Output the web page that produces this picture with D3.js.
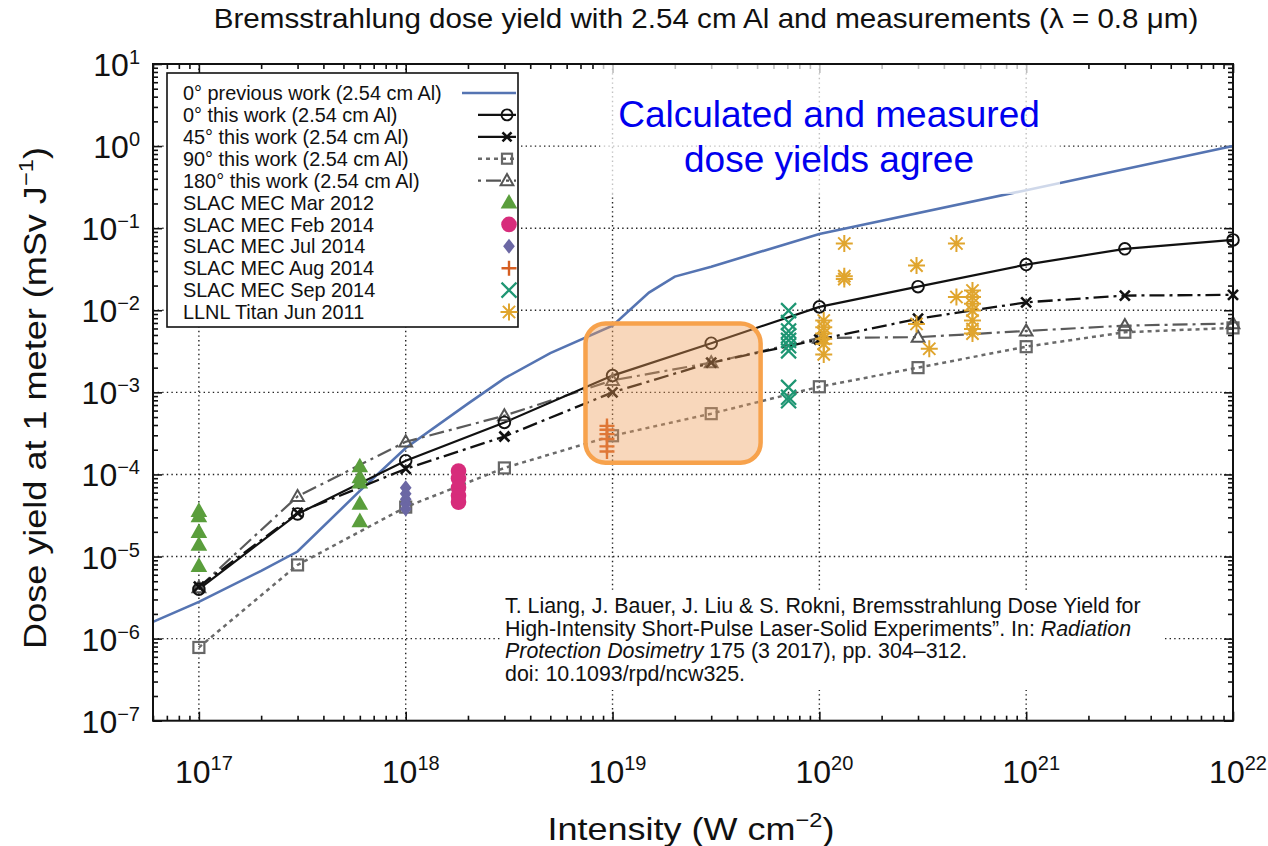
<!DOCTYPE html>
<html><head><meta charset="utf-8">
<script src="https://cdn.jsdelivr.net/npm/d3@7"></script>
<style>
body{margin:0;background:#fff}
svg{display:block}
text{font-family:"Liberation Sans",Arial,Helvetica,sans-serif;fill:#111}
</style>
</head><body>
<svg id="c" width="1268" height="846"></svg>
<script>
// ---------------- DATA ----------------
const titleText = "Bremsstrahlung dose yield with 2.54 cm Al and measurements (\u03bb = 0.8 \u03bcm)";
const xTickExp = [17, 18, 19, 20, 21, 22];
const yTickExp = [1, 0, -1, -2, -3, -4, -5, -6, -7];

const prevI    = [6e16, 1e17, 2e17, 3e17, 6e17, 1e18, 2e18, 3e18, 5e18, 1e19, 1.5e19, 2e19, 3e19, 1e20, 1e21, 1e22];
const prevDose = [1.6e-6, 2.8e-6, 6.7e-6, 1.15e-5, 6.3e-5, 2.1e-4, 7.3e-4, 1.48e-3, 3.0e-3, 6.5e-3, 0.0164, 0.0257, 0.034, 0.085, 0.29, 1.0];

const simI     = [1e17, 3e17, 1e18, 3e18, 1e19, 3e19, 1e20, 3e20, 1e21, 3e21, 1e22];
const dose0    = [4.0e-6, 3.3e-5, 1.47e-4, 4.3e-4, 1.6e-3, 3.97e-3, 0.011, 0.0194, 0.036, 0.056, 0.072];
const dose45   = [4.3e-6, 3.4e-5, 1.17e-4, 2.9e-4, 1.0e-3, 2.3e-3, 4.4e-3, 7.9e-3, 0.0125, 0.0151, 0.0154];
const dose90   = [7.8e-7, 7.9e-6, 4.0e-5, 1.2e-4, 2.96e-4, 5.5e-4, 1.17e-3, 2.0e-3, 3.6e-3, 5.4e-3, 6.1e-3];
const dose180  = [4.2e-6, 5.4e-5, 2.5e-4, 5.2e-4, 1.4e-3, 2.3e-3, 4.6e-3, 4.7e-3, 5.6e-3, 6.5e-3, 6.9e-3];

const slacMar2012I    = [1e17, 1e17, 1e17, 1e17, 1e17, 6e17, 6e17, 6e17, 6e17, 6e17];
const slacMar2012Dose = [3.6e-5, 3.1e-5, 2.0e-5, 1.4e-5, 7.7e-6, 1.26e-4, 9.3e-5, 8.0e-5, 4.4e-5, 2.7e-5];
const slacFeb2014I    = [1.8e18, 1.8e18, 1.8e18, 1.8e18, 1.8e18];
const slacFeb2014Dose = [1.1e-4, 8.9e-5, 6.9e-5, 5.5e-5, 4.6e-5];
const slacJul2014I    = [1e18, 1e18, 1e18, 1e18, 1e18];
const slacJul2014Dose = [6.9e-5, 5.8e-5, 5.0e-5, 4.4e-5, 3.8e-5];
const slacAug2014I    = [9.4e18, 9.4e18, 9.4e18, 9.4e18, 9.4e18, 9.4e18];
const slacAug2014Dose = [3.9e-4, 3.5e-4, 3.1e-4, 2.7e-4, 2.2e-4, 1.9e-4];
const slacSep2014I    = [7.1e19, 7.1e19, 7.1e19, 7.1e19, 7.1e19, 7.1e19, 7.1e19, 7.1e19, 7.1e19, 7.1e19];
const slacSep2014Dose = [9.9e-3, 7.1e-3, 5.6e-3, 4.9e-3, 4.3e-3, 3.7e-3, 3.2e-3, 1.15e-3, 8.7e-4, 7.9e-4];
const llnlI    = [1.05e20, 1.05e20, 1.05e20, 1.05e20, 1.05e20, 1.05e20, 1.32e20, 1.32e20, 1.32e20, 2.95e20, 2.95e20, 3.4e20, 4.6e20, 4.6e20, 5.5e20, 5.5e20, 5.5e20, 5.5e20, 5.5e20, 5.5e20, 5.5e20];
const llnlDose = [7.5e-3, 6.2e-3, 5.2e-3, 4.5e-3, 3.9e-3, 2.9e-3, 0.065, 0.026, 0.024, 0.035, 6.8e-3, 3.4e-3, 0.065, 0.0145, 0.0174, 0.0145, 0.012, 0.0099, 7.5e-3, 5.9e-3, 5.2e-3];

const legendLabels = ["0\u00b0 previous work (2.54 cm Al)", "0\u00b0 this work (2.54 cm Al)", "45\u00b0 this work (2.54 cm Al)",
  "90\u00b0 this work (2.54 cm Al)", "180\u00b0 this work (2.54 cm Al)", "SLAC MEC Mar 2012", "SLAC MEC Feb 2014",
  "SLAC MEC Jul 2014", "SLAC MEC Aug 2014", "SLAC MEC Sep 2014", "LLNL Titan Jun 2011"];
const annotationLines = ["Calculated and measured", "dose yields agree"];
const highlightBox = {x0: 7.4e18, x1: 5.2e19, y0: 6.9e-3, y1: 1.39e-4};

// ---------------- SETUP ----------------
const svg = d3.select('#c');
const X0 = 153, X1 = 1233, Y0 = 64, Y1 = 720.7;
const x = d3.scaleLog().domain([6e16, 1e22]).range([X0, X1]);
const y = d3.scaleLog().domain([1e-7, 1e1]).range([Y1, Y0]);

const majorX = d3.range(17, 23).map(e => Math.pow(10, e));
const majorY = d3.range(-7, 2).map(e => Math.pow(10, e));
const minorX = [], minorY = [];
for (let e = 16; e < 22; e++) for (let k = 2; k <= 9; k++) { const v = k * Math.pow(10, e); if (v >= 6e16 && v <= 1e22) minorX.push(v); }
for (let e = -7; e < 1; e++) for (let k = 2; k <= 9; k++) minorY.push(k * Math.pow(10, e));

// grid
const grid = svg.append('g').attr('stroke', '#222').attr('stroke-width', 1.4).attr('stroke-dasharray', '1.4,3.2').attr('fill', 'none');
majorX.filter(v => v < 1e22).forEach(v => grid.append('line').attr('x1', x(v)).attr('x2', x(v)).attr('y1', Y0).attr('y2', Y1));
majorY.filter(v => v > 1e-7 && v < 10).forEach(v => grid.append('line').attr('x1', X0).attr('x2', X1).attr('y1', y(v)).attr('y2', y(v)));

// axes ticks (inward on all sides)
function tickAxis(axisFn, scale, vals, size, tr) {
  const g = svg.append('g').attr('transform', tr).call(axisFn(scale).tickValues(vals).tickSize(size).tickFormat(''));
  g.select('.domain').remove();
  g.selectAll('line').attr('stroke', '#111').attr('stroke-width', 1.6);
}
tickAxis(d3.axisBottom, x, majorX, -9, `translate(0,${Y1})`);
tickAxis(d3.axisBottom, x, minorX, -5, `translate(0,${Y1})`);
tickAxis(d3.axisTop, x, majorX, -9, `translate(0,${Y0})`);
tickAxis(d3.axisTop, x, minorX, -5, `translate(0,${Y0})`);
tickAxis(d3.axisLeft, y, majorY, -9, `translate(${X0},0)`);
tickAxis(d3.axisLeft, y, minorY, -5, `translate(${X0},0)`);
tickAxis(d3.axisRight, y, majorY, -9, `translate(${X1},0)`);
tickAxis(d3.axisRight, y, minorY, -5, `translate(${X1},0)`);

// ---------------- SERIES ----------------
const line = d3.line().x(d => x(d[0])).y(d => y(d[1]));
const zip = (a, b) => a.map((v, i) => [v, b[i]]);

const styles = {
  prev: {stroke: '#5574b2', width: 2.6, dash: null},
  s0:   {stroke: '#111', width: 2.2, dash: null},
  s45:  {stroke: '#111', width: 2.3, dash: '15,5,3,5'},
  s90:  {stroke: '#6a6a6a', width: 2.5, dash: '4,4'},
  s180: {stroke: '#5a5a5a', width: 2.2, dash: '15,5,3,5'}
};
function drawLine(data, st) {
  svg.append('path').datum(data).attr('d', line).attr('fill', 'none')
    .attr('stroke', st.stroke).attr('stroke-width', st.width).attr('stroke-dasharray', st.dash);
}

function marker(g, type, cx, cy, s, color, sw) {
  let el;
  if (type === 'circle') el = g.append('circle').attr('cx', cx).attr('cy', cy).attr('r', s).attr('fill', 'none').attr('stroke', color).attr('stroke-width', sw);
  else if (type === 'dot') el = g.append('circle').attr('cx', cx).attr('cy', cy).attr('r', s).attr('fill', color);
  else if (type === 'square') el = g.append('rect').attr('x', cx - s).attr('y', cy - s).attr('width', 2 * s).attr('height', 2 * s).attr('fill', 'none').attr('stroke', color).attr('stroke-width', sw);
  else {
    let d;
    if (type === 'x') d = `M${cx - s},${cy - s}L${cx + s},${cy + s}M${cx - s},${cy + s}L${cx + s},${cy - s}`;
    else if (type === 'plus') d = `M${cx - s},${cy}L${cx + s},${cy}M${cx},${cy - s}L${cx},${cy + s}`;
    else if (type === 'star') { const a = s * 0.72; d = `M${cx - s},${cy}L${cx + s},${cy}M${cx},${cy - s}L${cx},${cy + s}M${cx - a},${cy - a}L${cx + a},${cy + a}M${cx - a},${cy + a}L${cx + a},${cy - a}`; }
    else if (type === 'tri' || type === 'trif') d = `M${cx},${cy - s}L${cx + s * 0.98},${cy + s * 0.72}L${cx - s * 0.98},${cy + s * 0.72}Z`;
    else if (type === 'diamond') d = `M${cx},${cy - s}L${cx + s * 0.78},${cy}L${cx},${cy + s}L${cx - s * 0.78},${cy}Z`;
    el = g.append('path').attr('d', d);
    if (type === 'trif' || type === 'diamond') el.attr('fill', color).attr('stroke', 'none');
    else el.attr('fill', 'none').attr('stroke', color).attr('stroke-width', sw);
  }
  return el;
}

drawLine(zip(prevI, prevDose), styles.prev);
drawLine(zip(simI, dose90), styles.s90);
drawLine(zip(simI, dose180), styles.s180);
drawLine(zip(simI, dose45), styles.s45);
drawLine(zip(simI, dose0), styles.s0);

const mk = svg.append('g');
simI.forEach((v, i) => marker(mk, 'square', x(v), y(dose90[i]), 5.5, '#666', 2.2));
simI.forEach((v, i) => marker(mk, 'tri', x(v), y(dose180[i]), 6.5, '#555', 2));
simI.forEach((v, i) => marker(mk, 'x', x(v), y(dose45[i]), 5, '#111', 2.6));
simI.forEach((v, i) => marker(mk, 'circle', x(v), y(dose0[i]), 5.8, '#111', 1.9));

const meas = svg.append('g');
slacMar2012I.forEach((v, i) => marker(meas, 'trif', x(v), y(slacMar2012Dose[i]), 8.5, '#5a9e3c'));
slacFeb2014I.forEach((v, i) => marker(meas, 'dot', x(v), y(slacFeb2014Dose[i]), 7.8, '#d72c7b'));
slacJul2014I.forEach((v, i) => marker(meas, 'diamond', x(v), y(slacJul2014Dose[i]), 7.5, '#6b67a4'));
slacAug2014I.forEach((v, i) => marker(meas, 'plus', x(v), y(slacAug2014Dose[i]), 7.5, '#d65f22', 2.4));
slacSep2014I.forEach((v, i) => marker(meas, 'x', x(v), y(slacSep2014Dose[i]), 7.5, '#1f9673', 2.2));
llnlI.forEach((v, i) => marker(meas, 'star', x(v), y(llnlDose[i]), 8.5, '#e0a52e', 2));

// highlight box (semi-transparent)
svg.append('rect')
  .attr('x', x(highlightBox.x0)).attr('y', y(highlightBox.y0))
  .attr('width', x(highlightBox.x1) - x(highlightBox.x0)).attr('height', y(highlightBox.y1) - y(highlightBox.y0))
  .attr('rx', 20).attr('ry', 20)
  .attr('fill', '#ee9a55').attr('fill-opacity', 0.4)
  .attr('stroke', '#f7a24c').attr('stroke-width', 4.5);

// faded region behind annotation
svg.append('rect').attr('x', 600).attr('y', Y0 + 1).attr('width', 460).attr('height', 129).attr('fill', '#fff').attr('fill-opacity', 0.72);

// frame
svg.append('rect').attr('x', X0).attr('y', Y0).attr('width', X1 - X0).attr('height', Y1 - Y0)
  .attr('fill', 'none').attr('stroke', '#111').attr('stroke-width', 2);

// ---------------- TEXT ----------------
function richText(parent, parts, size, supSize, supDy, anchor) {
  const t = parent.append('text').attr('font-size', size).attr('text-anchor', anchor || 'start');
  let raised = false;
  parts.forEach(p => {
    const ts = t.append('tspan').text(p.t);
    if (p.sup) { ts.attr('font-size', supSize).attr('dy', raised ? 0 : -supDy); raised = true; }
    else { if (raised) ts.attr('dy', supDy); raised = false; }
    if (p.it) ts.attr('font-style', 'italic');
  });
  return t;
}
function fitted(tr, parts, size, supSize, supDy, targetW) {
  const g = svg.append('g').attr('transform', tr);
  const inner = g.append('g');
  const t = richText(inner, parts, size, supSize, supDy, 'middle');
  const w = t.node().getBBox().width;
  inner.attr('transform', `scale(${targetW / w},1)`);
  return t;
}

// title
fitted('translate(706,28)', [{t: titleText}], 27, 18, 0, 985);

// y tick labels
yTickExp.forEach(e => {
  const t = richText(svg, [{t: '10'}, {t: e < 0 ? '\u2212' + (-e) : String(e), sup: true}], 32, 20, 12, 'end');
  t.attr('x', 140).attr('y', y(Math.pow(10, e)) + 12);
});
// x tick labels
xTickExp.forEach(e => {
  const t = richText(svg, [{t: '10'}, {t: String(e), sup: true}], 32, 20, 13, 'middle');
  t.attr('x', x(Math.pow(10, e)) + 5).attr('y', 783);
});

// axis titles
fitted('translate(691,840)', [{t: 'Intensity (W cm'}, {t: '\u22122', sup: true}, {t: ')'}], 32, 21, 13, 287);
fitted('translate(46,398) rotate(-90)', [{t: 'Dose yield at 1 meter (mSv J'}, {t: '\u22121', sup: true}, {t: ')'}], 32, 21, 13, 502);

// legend
const lg = svg.append('g');
lg.append('rect').attr('x', 167).attr('y', 73).attr('width', 351).attr('height', 254).attr('fill', '#fff').attr('stroke', '#111').attr('stroke-width', 1.6);
const rowY = i => 93 + i * 21.9;
const lprobe = lg.append('text').attr('font-size', 16).text(legendLabels[0]);
const legSize = 16 * 259 / lprobe.node().getBBox().width;
lprobe.remove();
legendLabels.forEach((lab, i) => {
  lg.append('text').attr('x', 183).attr('y', rowY(i) + legSize * 0.36).attr('font-size', legSize).text(lab);
});
const legLine = (i, st, xa) => lg.append('line').attr('x1', xa).attr('x2', 516).attr('y1', rowY(i)).attr('y2', rowY(i))
  .attr('stroke', st.stroke).attr('stroke-width', st.width).attr('stroke-dasharray', st.dash);
legLine(0, styles.prev, 462);
legLine(1, styles.s0, 478); marker(lg, 'circle', 507, rowY(1), 5.5, '#111', 1.9);
legLine(2, {stroke: '#111', width: 2.2, dash: null}, 478); marker(lg, 'x', 507, rowY(2), 4.5, '#111', 2.6);
legLine(3, styles.s90, 478); marker(lg, 'square', 507, rowY(3), 5, '#666', 2.2);
legLine(4, {stroke: '#555', width: 2.2, dash: '3,5,15,5'}, 478); marker(lg, 'tri', 507, rowY(4), 6.5, '#555', 2);
marker(lg, 'trif', 509, rowY(5), 8.5, '#5a9e3c');
marker(lg, 'dot', 509, rowY(6), 7.8, '#d72c7b');
marker(lg, 'diamond', 509, rowY(7), 7.5, '#6b67a4');
marker(lg, 'plus', 509, rowY(8), 7.5, '#d65f22', 2.4);
marker(lg, 'x', 509, rowY(9), 7.5, '#1f9673', 2.2);
marker(lg, 'star', 509, rowY(10), 8.5, '#e0a52e', 2);

// annotation
annotationLines.forEach((s, i) => {
  svg.append('text').attr('x', 829).attr('y', 127 + i * 45).attr('text-anchor', 'middle')
    .attr('font-size', 37).style('fill', '#0000ee').text(s);
});

// citation
svg.append('rect').attr('x', 500).attr('y', 592).attr('width', 665).attr('height', 98).attr('fill', '#fff');
const citeLines = [
  [{t: 'T. Liang, J. Bauer, J. Liu & S. Rokni, Bremsstrahlung Dose Yield for'}],
  [{t: 'High-Intensity Short-Pulse Laser-Solid Experiments\u201d. In: '}, {t: 'Radiation', it: true}],
  [{t: 'Protection Dosimetry', it: true}, {t: ' 175 (3 2017), pp. 304\u2013312.'}],
  [{t: 'doi: 10.1093/rpd/ncw325.'}]
];
const probe = richText(svg, citeLines[0], 18, 18, 0, 'start');
const citeSize = 18 * 636 / probe.node().getBBox().width;
probe.remove();
citeLines.forEach((parts, i) => {
  richText(svg, parts, citeSize, citeSize, 0, 'start').attr('x', 505).attr('y', 613 + i * 22.6);
});
</script>
</body></html>
